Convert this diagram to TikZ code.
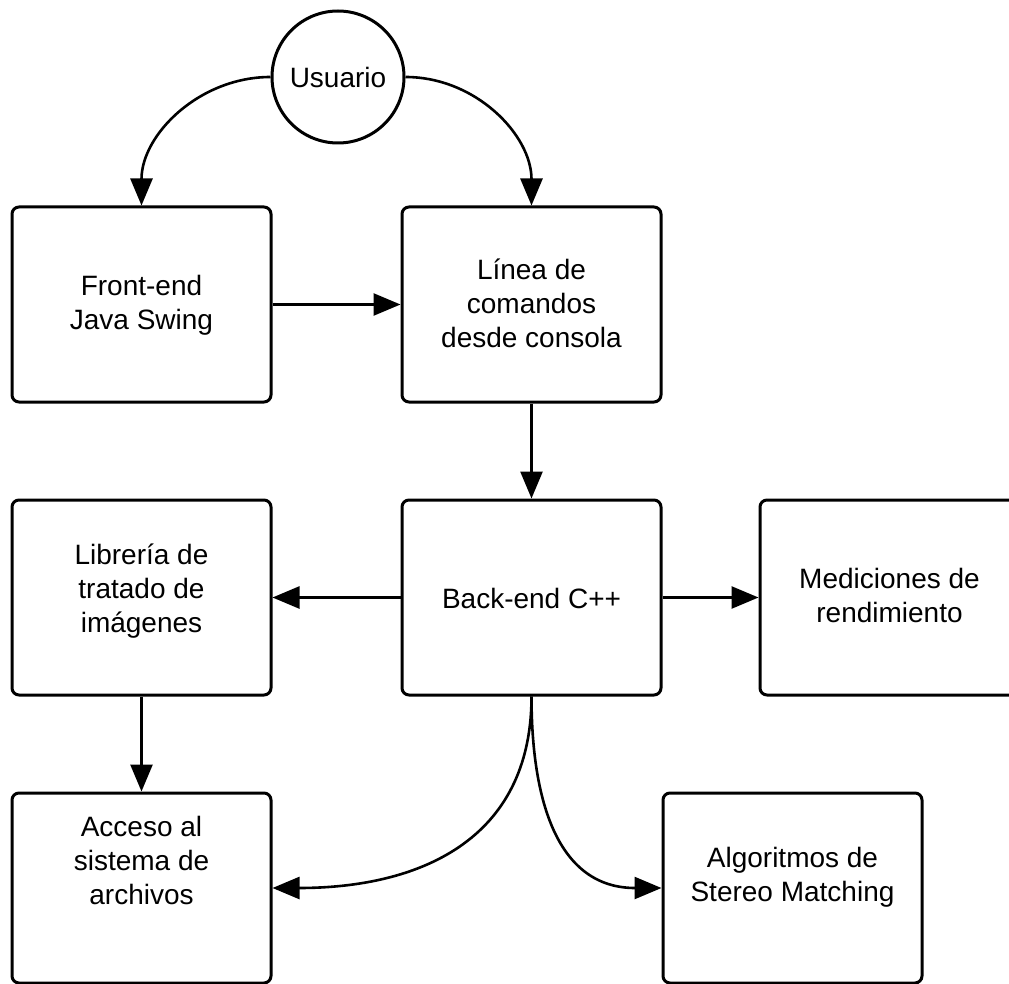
\documentclass[tikz,border=0pt]{standalone}
\usepackage{fontspec}
\setmainfont{Liberation Sans}
\usetikzlibrary{arrows.meta}
\begin{document}
\begin{tikzpicture}[x=1pt,y=-1pt,
  box/.style={draw=black, line width=3pt, rounded corners=7pt, minimum width=259pt, minimum height=195pt, inner sep=0pt},
  lowbox/.style={box, minimum height=190pt},
  lbl/.style={align=center, font=\fontsize{28}{34}\selectfont, inner sep=0pt},
  conn/.style={draw=black, line width=2.6pt, -{Triangle[length=27pt,width=22pt]}},
  usr/.style={draw=black, line width=3pt, circle, minimum size=132pt, inner sep=0pt, font=\fontsize{28}{34}\selectfont}]
\useasboundingbox (0,0) rectangle (1009,984);
\clip (0,0) rectangle (1009,984);
\node[usr] (user) at (338,77) {Usuario};
\node[box] (front) at (141.5,304.5) {};
\node[lbl] (front-t) at (141.5,305) {Front-end\\Java Swing};
\node[box] (cli) at (531.5,304.5) {};
\node[lbl] (cli-t) at (531.5,303) {Línea de\\comandos\\desde consola};
\node[box] (lib) at (141.5,597.5) {};
\node[lbl] (lib-t) at (141.5,591) {Librería de\\tratado de\\imágenes};
\node[box] (back) at (531.5,597.5) {};
\node[lbl] (back-t) at (531.5,598) {Back-end C++};
\node[box] (med) at (889.5,597.5) {};
\node[lbl] (med-t) at (889.5,595) {Mediciones de\\rendimiento};
\node[lowbox] (fs) at (141.5,888) {};
\node[lbl] (fs-t) at (141.5,860) {Acceso al\\sistema de\\archivos};
\node[lowbox] (algo) at (792.5,888) {};
\node[lbl] (algo-t) at (792.5,877) {Algoritmos de\\Stereo Matching};
\draw[conn] (user.west) to[out=180,in=90] (front.north);
\draw[conn] (user.east) to[out=0,in=90] (cli.north);
\draw[conn] (front.east) -- (cli.west);
\draw[conn] (cli.south) -- (back.north);
\draw[conn] (back.west) -- (lib.east);
\draw[conn] (back.east) -- (med.west);
\draw[conn] (lib.south) -- (fs.north);
\draw[conn] (back.south) to[out=-90,in=0,looseness=1.15] (fs.east);
\draw[conn] (back.south) to[out=-90,in=180,looseness=1.15] (algo.west);
\end{tikzpicture}
\end{document}
